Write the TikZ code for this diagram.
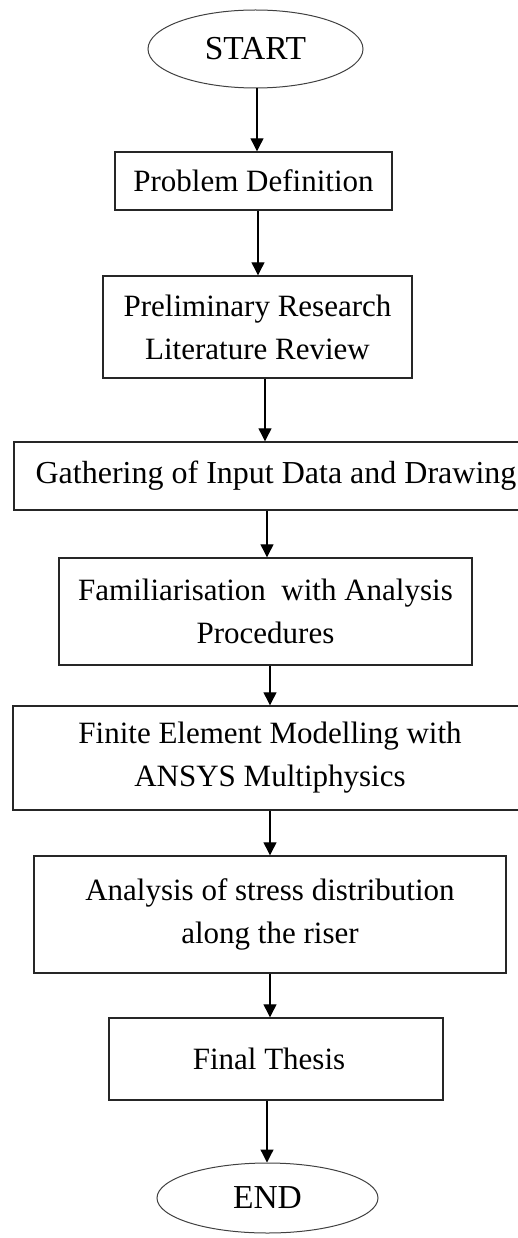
\documentclass[tikz,border=0pt]{standalone}
\usepackage{fontspec}
\setmainfont{Liberation Serif}
\usetikzlibrary{arrows.meta,shapes.geometric}
\begin{document}
\begin{tikzpicture}[x=1pt,y=-1pt,
 box/.style={draw=black!85, line width=1.4pt, rectangle, inner sep=0pt, align=center, font=\fontsize{31}{43}\selectfont},
 term/.style={draw=black!75, line width=1pt, ellipse, inner sep=0pt, font=\fontsize{33.5}{43}\selectfont},
 arr/.style={-{Triangle[width=13pt,length=13pt]}, line width=1.2pt}]
\useasboundingbox (0,0) rectangle (517,1238);
\node[term, minimum width=215pt, minimum height=78pt] (start) at (255.5,49) {START};
\node[box, minimum width=277pt, minimum height=58pt] (prob) at (253.5,181) {Problem Definition};
\node[box, minimum width=309pt, minimum height=102pt] (prel) at (257.5,327) {Preliminary Research\\Literature Review};
\node[box, minimum width=524pt, minimum height=68pt, font=\fontsize{32}{43}\selectfont] (gath) at (276,476) {Gathering of Input Data and Drawing};
\node[box, minimum width=413pt, minimum height=107pt] (fam) at (265.5,611.5) {Familiarisation\ \ with Analysis\\Procedures};
\node[box, minimum width=514pt, minimum height=104pt] (fem) at (270,758) {Finite Element Modelling with\\ANSYS Multiphysics};
\node[box, minimum width=472pt, minimum height=117pt] (ana) at (270,914.5) {Analysis of stress distribution\\along the riser};
\node[box, minimum width=334pt, minimum height=82pt] (fin) at (276,1059) {Final Thesis\hspace{14pt}};
\node[term, minimum width=221pt, minimum height=70pt] (end) at (267.5,1198) {END};
\draw[arr] ([xshift=1.5pt]start.south) -- ([xshift=1.5pt]start.south |- prob.north);
\draw[arr] ([xshift=4.5pt]prob.south) -- ([xshift=4.5pt]prob.south |- prel.north);
\draw[arr] ([xshift=7.5pt]prel.south) -- ([xshift=7.5pt]prel.south |- gath.north);
\draw[arr] ([xshift=-9pt]gath.south) -- ([xshift=-9pt]gath.south |- fam.north);
\draw[arr] ([xshift=4.5pt]fam.south) -- ([xshift=4.5pt]fam.south |- fem.north);
\draw[arr] (fem.south) -- (fem.south |- ana.north);
\draw[arr] (ana.south) -- (ana.south |- fin.north);
\draw[arr] ([xshift=-9pt]fin.south) -- ([xshift=-9pt]fin.south |- end.north);
\end{tikzpicture}
\end{document}
